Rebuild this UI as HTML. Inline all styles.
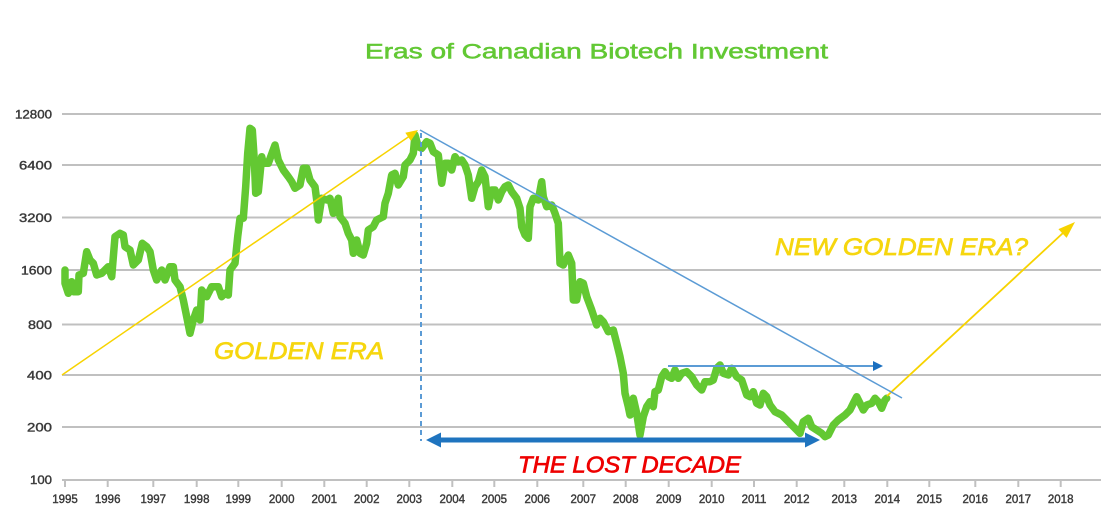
<!DOCTYPE html>
<html>
<head>
<meta charset="utf-8">
<style>
  html,body{margin:0;padding:0;background:#fff;}
  svg{display:block;}
  .ax{font-family:"Liberation Sans",sans-serif;font-size:11.5px;fill:#3a3a3a;stroke:#3a3a3a;stroke-width:0.4;}
</style>
</head>
<body>
<svg width="1103" height="518" viewBox="0 0 1103 518" xmlns="http://www.w3.org/2000/svg">
  <rect width="1103" height="518" fill="#fff"/>
  <!-- title -->
  <text x="365" y="58.3" font-family="Liberation Sans, sans-serif" font-size="21" fill="#62c834" stroke="#62c834" stroke-width="0.55" textLength="463" lengthAdjust="spacingAndGlyphs">Eras of Canadian Biotech Investment</text>

  <!-- gridlines -->
  <g stroke="#c0c0c0" stroke-width="2">
    <line x1="62" y1="114" x2="1101" y2="114"/>
    <line x1="62" y1="165" x2="1101" y2="165"/>
    <line x1="62" y1="217.5" x2="1101" y2="217.5"/>
    <line x1="62" y1="270" x2="1101" y2="270"/>
    <line x1="62" y1="324.5" x2="1101" y2="324.5"/>
    <line x1="62" y1="375" x2="1101" y2="375"/>
    <line x1="62" y1="427" x2="1101" y2="427"/>
    <line x1="62" y1="480" x2="1101" y2="480"/>
  </g>
  <!-- ticks -->
  <g stroke="#c0c0c0" stroke-width="2">
    <line x1="65" y1="480" x2="65" y2="487"/>
    <line x1="107.7" y1="480" x2="107.7" y2="487"/>
    <line x1="153.3" y1="480" x2="153.3" y2="487"/>
    <line x1="196.7" y1="480" x2="196.7" y2="487"/>
    <line x1="238.3" y1="480" x2="238.3" y2="487"/>
    <line x1="281.7" y1="480" x2="281.7" y2="487"/>
    <line x1="324.3" y1="480" x2="324.3" y2="487"/>
    <line x1="366.7" y1="480" x2="366.7" y2="487"/>
    <line x1="409.3" y1="480" x2="409.3" y2="487"/>
    <line x1="452.3" y1="480" x2="452.3" y2="487"/>
    <line x1="494.3" y1="480" x2="494.3" y2="487"/>
    <line x1="537.3" y1="480" x2="537.3" y2="487"/>
    <line x1="583.3" y1="480" x2="583.3" y2="487"/>
    <line x1="625.7" y1="480" x2="625.7" y2="487"/>
    <line x1="668.7" y1="480" x2="668.7" y2="487"/>
    <line x1="711.7" y1="480" x2="711.7" y2="487"/>
    <line x1="754" y1="480" x2="754" y2="487"/>
    <line x1="796.7" y1="480" x2="796.7" y2="487"/>
    <line x1="844.3" y1="480" x2="844.3" y2="487"/>
    <line x1="887.3" y1="480" x2="887.3" y2="487"/>
    <line x1="929.3" y1="480" x2="929.3" y2="487"/>
    <line x1="975.3" y1="480" x2="975.3" y2="487"/>
    <line x1="1018.3" y1="480" x2="1018.3" y2="487"/>
    <line x1="1060.7" y1="480" x2="1060.7" y2="487"/>
  </g>

  <!-- y labels -->
  <g class="ax" text-anchor="end">
    <text x="52" y="118.3" textLength="37" lengthAdjust="spacingAndGlyphs">12800</text>
    <text x="52" y="169.3" textLength="33" lengthAdjust="spacingAndGlyphs">6400</text>
    <text x="52" y="221.8" textLength="33" lengthAdjust="spacingAndGlyphs">3200</text>
    <text x="52" y="274.3" textLength="31" lengthAdjust="spacingAndGlyphs">1600</text>
    <text x="52" y="328.8" textLength="24" lengthAdjust="spacingAndGlyphs">800</text>
    <text x="52" y="379.3" textLength="25" lengthAdjust="spacingAndGlyphs">400</text>
    <text x="52" y="431.3" textLength="25" lengthAdjust="spacingAndGlyphs">200</text>
    <text x="52" y="484" textLength="22" lengthAdjust="spacingAndGlyphs">100</text>
  </g>
  <!-- x labels -->
  <g class="ax" text-anchor="middle">
    <text x="65" y="503">1995</text>
    <text x="107.7" y="503">1996</text>
    <text x="153.3" y="503">1997</text>
    <text x="196.7" y="503">1998</text>
    <text x="238.3" y="503">1999</text>
    <text x="281.7" y="503">2000</text>
    <text x="324.3" y="503">2001</text>
    <text x="366.7" y="503">2002</text>
    <text x="409.3" y="503">2003</text>
    <text x="452.3" y="503">2004</text>
    <text x="494.3" y="503">2005</text>
    <text x="537.3" y="503">2006</text>
    <text x="583.3" y="503">2007</text>
    <text x="625.7" y="503">2008</text>
    <text x="668.7" y="503">2009</text>
    <text x="711.7" y="503">2010</text>
    <text x="754" y="503">2011</text>
    <text x="796.7" y="503">2012</text>
    <text x="844.3" y="503">2013</text>
    <text x="887.3" y="503">2014</text>
    <text x="929.3" y="503">2015</text>
    <text x="975.3" y="503">2016</text>
    <text x="1018.3" y="503">2017</text>
    <text x="1060.7" y="503">2018</text>
  </g>

  <!-- green data line -->
  <polyline fill="none" stroke="#63c832" stroke-width="7.5" stroke-linejoin="round" stroke-linecap="round"
    points="65,270 65,283.3 68.3,293.3 71.7,281.7 73.3,291.7 78.3,291.7 79,275 83.3,273.3 86.7,251.7 90,260 93.3,263.3 96.7,275 101.7,273.3 108.3,266.7 111.7,276.7 115,236.7 120,233.3 123.3,235 125,246.7 130,250 133.3,265 138.3,260 142.3,243.3 146.7,246.7 150,251.7 153.3,270 156.7,280 161.7,270 165,280 170,266.7 173.3,266.7 175,280 180,286.7 183.3,300 186.7,316.7 190,333.3 193.3,320 196.7,310 200,320 201.7,290 206.7,296.7 211.7,286.7 218.3,286.7 221.7,296.7 225,293.3 228.3,295 230,270 235,263.3 237.7,236.7 240,218.3 243.3,218.3 245.7,186.7 247.7,153.3 250,128.3 252.3,130 254.3,160 255.7,193.3 258.3,191.7 261.7,156.7 263.3,163.3 268.3,163.3 275,145 278.3,160 283.3,170 288.3,176.7 291.7,181.7 295,188.3 300,185 303.3,168.3 306.7,168.3 310,180 315,186.7 316.7,200 318.3,220 321.7,198.3 326.7,200 330,198.3 333.3,213.3 338.3,198.3 340,216.7 345,223.3 348.3,233.3 351.7,240 353.3,253.3 356.7,240 360,253.3 363.3,255 366.7,243.3 368.3,230 373.3,226.7 376.7,220 383.3,216.7 385,203.3 388.3,193.3 391.7,175 395,173.3 398.3,185 403.3,176.7 405,165 410,160 413.3,153.3 415,135 418.3,146.7 421.7,148.3 426.7,141.7 430,143.3 433.3,151.7 438.3,155 441.7,183.3 445,163.3 448.3,163.3 451.7,170 455,156.7 458.3,161.7 461.7,160 465,165 468.3,175 471.7,198.3 475,186.7 478.3,181.7 481.7,170 485,176.7 488.3,206.7 491.7,190 495,190 498.3,200 501.7,191.7 505,186.7 508.3,185 511.7,191.7 516.7,198.3 520,208.3 521.7,226.7 525,235 528.3,238.3 530,206.7 533.3,198.3 538.3,200 541.7,181.7 543.3,196.7 546.7,206.7 551.7,205 555,213.3 558.3,223.3 560,263.3 563.3,265 568.3,255 571.7,263.3 573.3,300 576.7,300 580,281.7 583.3,283.3 586.7,296.7 591.7,310 596.7,325 600,318.3 603.3,321.7 608.3,331.7 613.3,330 616.7,343.3 620,356.7 623.3,373.3 625,393.3 628.3,406.7 630,415 633.3,398.3 636.7,413.3 640,435 643.3,416.7 646.7,406.7 650,401.7 653.3,406.7 655,391.7 658.3,390 661.7,376.7 665,371.7 668.3,376.7 671.7,378.3 675,370 678.3,378.3 681.7,373.3 686.7,371.7 691.7,376.7 696.7,385 701.7,390 705,381.7 710,381.7 713.3,380 716.7,368.3 720,365 723.3,373.3 728.3,375 731.7,368.3 736.7,376.7 741.7,380 746.7,395 750,396.7 753.3,391.7 756.7,403.3 760,405 763.3,393.3 766.7,396.7 770,405 775,411.7 781.7,415 786.7,420 791.7,425 796.7,430 800,433.3 803.3,421.7 808.3,418.3 811.7,426.7 816.7,430 821.7,433.3 825,436.7 828.3,435 833.3,425 838.3,420 845,415 850,410 853.3,403.3 856.7,396.7 860,403.3 863.3,410 866.7,405 871.7,403.3 875,398.3 878.3,401.7 881.7,408.3 885,400 886.7,398.3"/>

  <!-- yellow lines -->
  <line x1="62" y1="375" x2="409" y2="136.5" stroke="#f7d300" stroke-width="1.5"/>
  <polygon points="418,130 410.9,140.9 405.3,132.7" fill="#f7d300"/>
  <line x1="887" y1="396" x2="1063" y2="233" stroke="#f7d300" stroke-width="1.8"/>
  <polygon points="1075,222 1066.6,237.9 1058.4,229.1" fill="#f7d300"/>

  <!-- blue diagonal -->
  <line x1="420" y1="130" x2="902" y2="398" stroke="#5b9bd5" stroke-width="1.5"/>
  <!-- dashed vertical -->
  <line x1="421" y1="133" x2="421" y2="441" stroke="#5b9bd5" stroke-width="2" stroke-dasharray="5,4"/>
  <!-- thin horizontal arrow -->
  <line x1="668" y1="366" x2="875" y2="366" stroke="#5b9bd5" stroke-width="2"/>
  <polygon points="883,366 873,361 873,371" fill="#1a6fc0"/>
  <!-- thick lost decade arrow -->
  <line x1="438" y1="440" x2="808" y2="440" stroke="#1f74bf" stroke-width="5"/>
  <polygon points="426,440 441,432.5 441,447.5" fill="#1f74bf"/>
  <polygon points="820,440 805,432.5 805,447.5" fill="#1f74bf"/>

  <!-- annotations -->
  <text x="214" y="359" font-family="Liberation Sans, sans-serif" font-size="24" font-style="italic" fill="#f6d60e" stroke="#f6d60e" stroke-width="0.7" textLength="170" lengthAdjust="spacingAndGlyphs">GOLDEN ERA</text>
  <text x="775" y="255" font-family="Liberation Sans, sans-serif" font-size="24" font-style="italic" fill="#f6d60e" stroke="#f6d60e" stroke-width="0.7" textLength="253" lengthAdjust="spacingAndGlyphs">NEW GOLDEN ERA?</text>
  <text x="518" y="472.5" font-family="Liberation Sans, sans-serif" font-size="23" font-style="italic" fill="#ee0000" stroke="#ee0000" stroke-width="0.7" textLength="223" lengthAdjust="spacingAndGlyphs">THE LOST DECADE</text>
</svg>
</body>
</html>
